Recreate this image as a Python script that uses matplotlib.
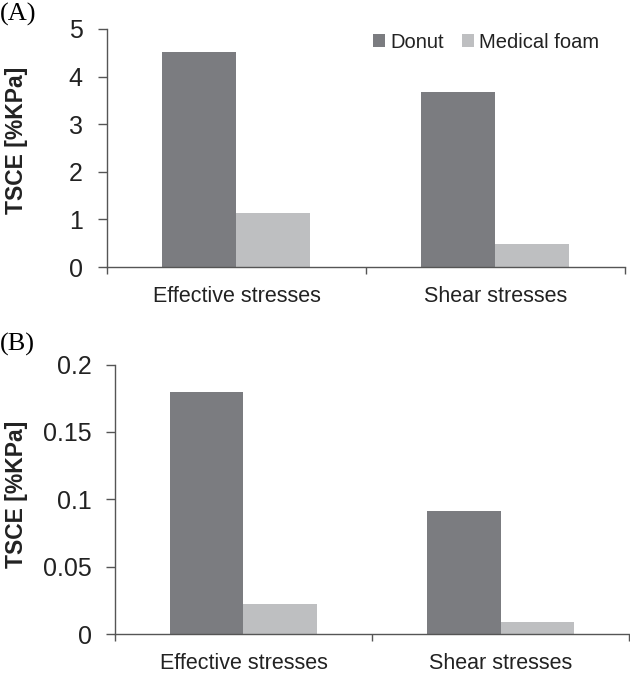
import numpy as np
import matplotlib.pyplot as plt

plt.rcParams['font.family'] = ['Liberation Sans', 'DejaVu Sans']

categories = ['Effective stresses', 'Shear stresses']
series_names = ['Donut', 'Medical foam']
colors = ['#7b7c80', '#bebfc1']

# panel A: TSCE values
donut_a = [4.52, 3.67]
foam_a = [1.13, 0.48]
yticks_a = [0, 1, 2, 3, 4, 5]
yticklabels_a = ['0', '1', '2', '3', '4', '5']

# panel B
donut_b = [0.18, 0.091]
foam_b = [0.022, 0.009]
yticks_b = [0, 0.05, 0.1, 0.15, 0.2]
yticklabels_b = ['0', '0.05', '0.1', '0.15', '0.2']

fig = plt.figure(figsize=(6.3, 6.77), dpi=100)
ax_a = fig.add_axes([0.1698, 0.6056, 0.822, 0.3516])
ax_b = fig.add_axes([0.1825, 0.0635, 0.816, 0.398])

bar_w = 0.2857
axis_col = '#555555'


def draw_panel(ax, donut, foam, yticks, yticklabels, ypad, legend):
    x = np.arange(len(categories))
    ax.bar(x - bar_w / 2, donut, bar_w, color=colors[0], label=series_names[0])
    ax.bar(x + bar_w / 2, foam, bar_w, color=colors[1], label=series_names[1])
    ax.set_xlim(-0.5, len(categories) - 0.5)
    ax.set_ylim(yticks[0], yticks[-1])
    for s in ['top', 'right']:
        ax.spines[s].set_visible(False)
    for s in ['left', 'bottom']:
        ax.spines[s].set_color(axis_col)
        ax.spines[s].set_linewidth(1.0)
    ax.set_yticks(yticks)
    ax.set_yticklabels(yticklabels, fontsize=18, color='#222222')
    ax.tick_params(axis='y', length=6.5, width=1.0, color=axis_col, pad=ypad)
    ax.set_xticks(np.arange(-0.5, len(categories), 1.0))
    ax.set_xticklabels([])
    ax.tick_params(axis='x', which='major', length=5, width=1.0, color=axis_col)
    ax.set_xticks(x, minor=True)
    ax.set_xticklabels(categories, minor=True, fontsize=15.5, color='#222222')
    ax.tick_params(axis='x', which='minor', length=0, pad=14)
    ax.set_ylabel('TSCE [%KPa]', fontsize=16.5, fontweight='bold', color='#222222')
    if legend:
        ax.legend(loc='upper right', bbox_to_anchor=(0.985, 1.06), ncol=2, frameon=False,
                  fontsize=14.5, handlelength=0.6, handleheight=0.6, handletextpad=0.25,
                  columnspacing=0.9, labelcolor='#222222')


draw_panel(ax_a, donut_a, foam_a, yticks_a, yticklabels_a, 11, True)
draw_panel(ax_b, donut_b, foam_b, yticks_b, yticklabels_b, 10, False)
ax_a.yaxis.set_label_coords(-0.1525, 0.53)
ax_b.yaxis.set_label_coords(-0.169, 0.52)

fig.text(0.0, 0.995, '(A)', fontsize=19, family=['Liberation Serif'], va='top', ha='left')
fig.text(0.0, 0.508, '(B)', fontsize=19, family=['Liberation Serif'], va='top', ha='left')

fig.savefig('out.png', dpi=100)
